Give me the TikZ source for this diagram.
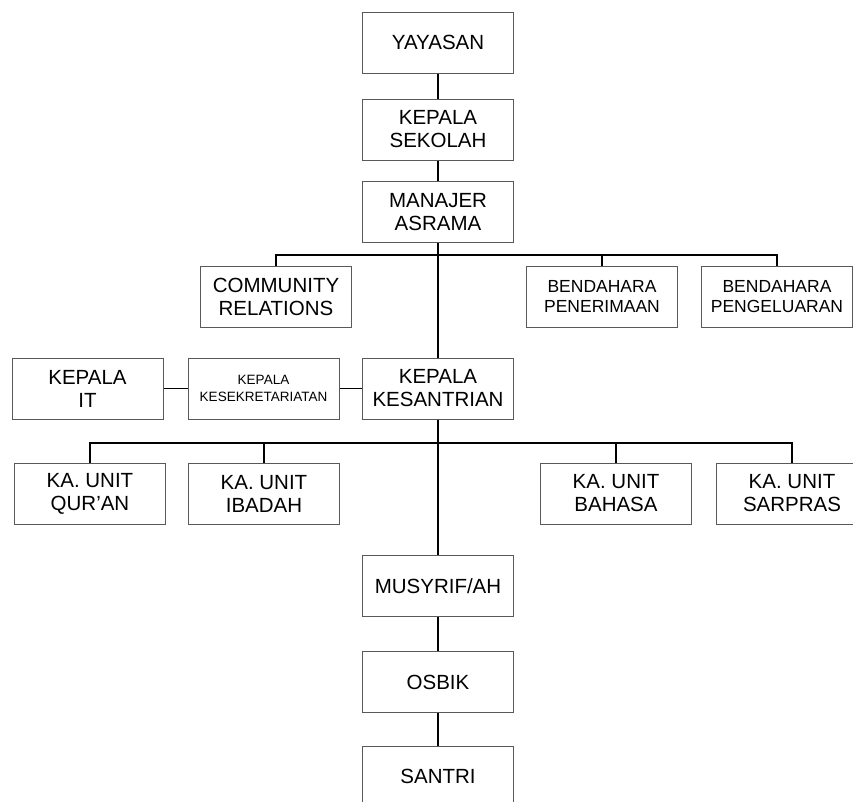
\documentclass[tikz,border=0pt]{standalone}
\usepackage{fontspec}
\setmainfont{Liberation Sans}
\usepackage{tikz}

\begin{document}
\begin{tikzpicture}[x=1pt,y=-1pt,line width=1.6pt]
            \clip (0,0) rectangle (853,801);
            \begin{scope}[every node/.style={rectangle,draw=black!65,line width=1pt,minimum width=151pt,minimum height=61pt,inner sep=0pt,align=center,font=\fontsize{20.5}{23}\selectfont}]
                \node (yayasan) at (438,42.5) {YAYASAN};
                \node (sekolah) at (438,129.5) {KEPALA\\SEKOLAH};
                \node (manajer) at (438,212) {MANAJER\\ASRAMA};
                \node (community) at (276,296.5) {COMMUNITY\\RELATIONS};
                \node[font=\fontsize{17.5}{20}\selectfont] (penerimaan) at (602,296.5) {BENDAHARA\\PENERIMAAN};
                \node[font=\fontsize{17.5}{20}\selectfont] (pengeluaran) at (777,296.5) {BENDAHARA\\PENGELUARAN};
                \node (it) at (87.5,388.5) {KEPALA\\IT};
                \node[font=\fontsize{13.5}{17}\selectfont] (sekretariat) at (263.5,388.5) {KEPALA\\KESEKRETARIATAN};
                \node (kesantrian) at (438,388.5) {KEPALA\\KESANTRIAN};
                \node (quran) at (90,493.5) {KA. UNIT\\QUR'AN};
                \node (ibadah) at (264,493.5) {KA. UNIT\\IBADAH};
                \node (bahasa) at (616,493.5) {KA. UNIT\\BAHASA};
                \node (sarpras) at (792,493.5) {KA. UNIT\\SARPRAS};
                \node (musyrif) at (438,586) {MUSYRIF/AH};
                \node (osbik) at (438,682) {OSBIK};
                \node (santri) at (438,776.5) {SANTRI};
            \end{scope}
            \coordinate (bus1) at (438,255);
            \coordinate (bus2) at (438,443);
            \draw (yayasan) edge (sekolah);
            \draw (sekolah) edge (manajer);
            \draw (manajer) edge (kesantrian);
            \draw (community.north) |- (bus1) -| (pengeluaran.north);
            \draw (penerimaan.north) edge (penerimaan.north |- bus1);
            \draw (it) edge (sekretariat);
            \draw (sekretariat) edge (kesantrian);
            \draw (quran.north) |- (bus2) -| (sarpras.north);
            \draw (ibadah.north) edge (ibadah.north |- bus2);
            \draw (bahasa.north) edge (bahasa.north |- bus2);
            \draw (kesantrian) edge (musyrif);
            \draw (musyrif) edge (osbik);
            \draw (osbik) edge (santri);
        \end{tikzpicture}
\end{document}
